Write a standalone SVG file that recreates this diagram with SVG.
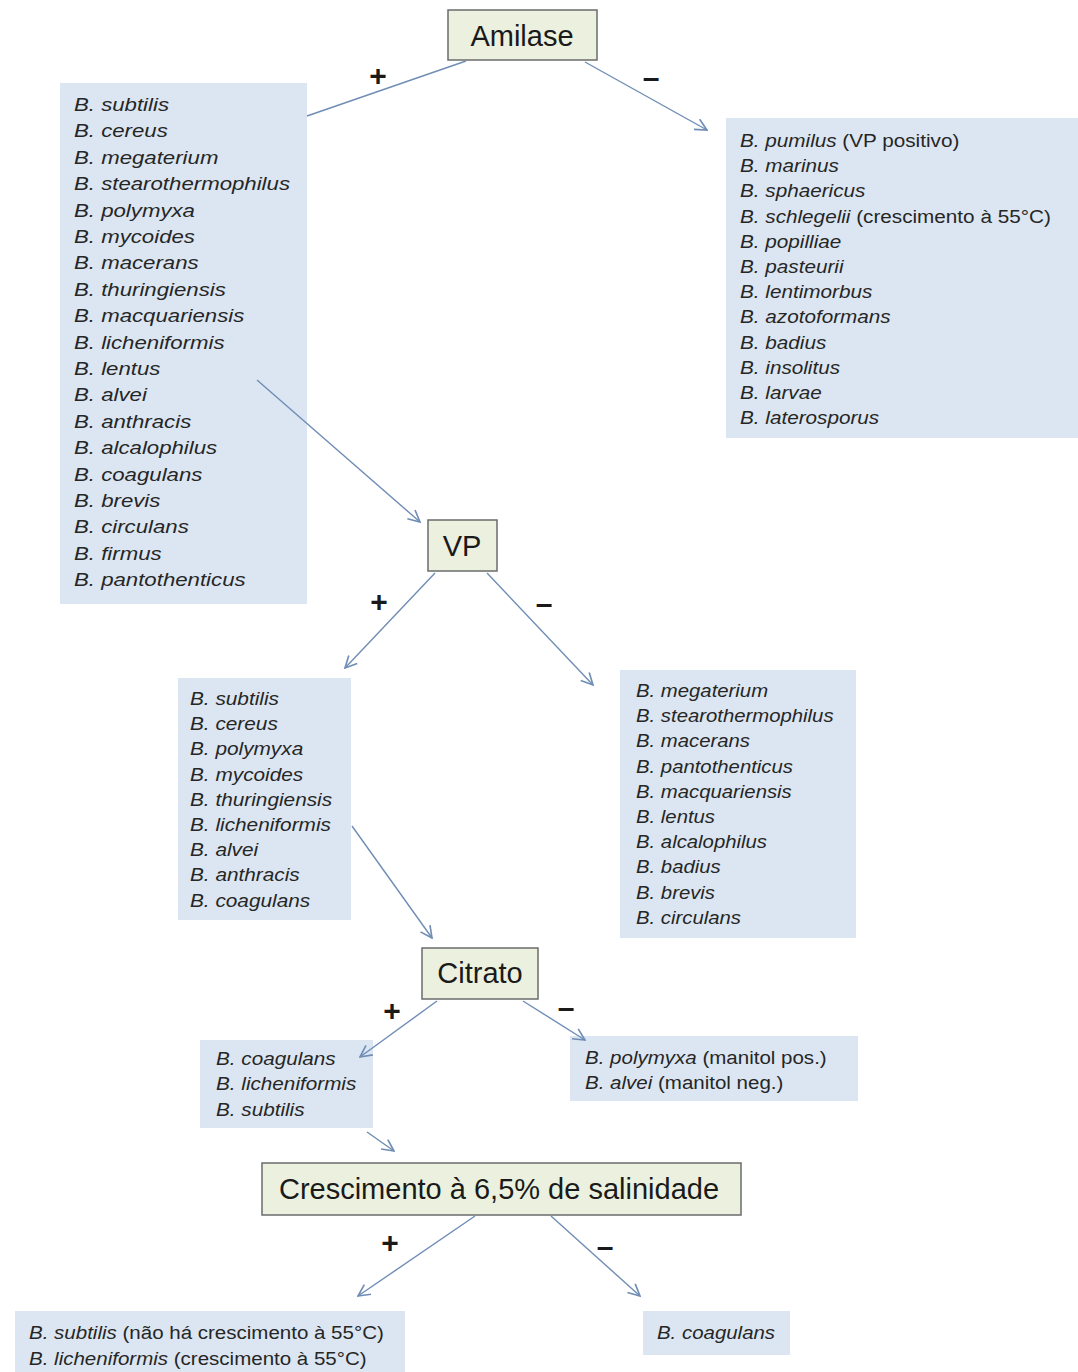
<svg xmlns="http://www.w3.org/2000/svg" width="1078" height="1372" viewBox="0 0 1078 1372">
<style>
.hdr{fill:#ebf1de;stroke:#6b6b6b;stroke-width:1.5}
.lst{fill:#dce6f2;stroke:none}
.ht{font-family:"Liberation Sans",Arial,sans-serif;font-size:29px;fill:#1a1a1a;text-anchor:middle}
.sp{font-family:"Liberation Sans",Arial,sans-serif;font-size:19px;fill:#262626}
.i{font-style:italic}
.sg{font-family:"Liberation Sans",Arial,sans-serif;font-size:30px;font-weight:bold;fill:#1a1a1a;text-anchor:middle}
.cn{stroke:#6f8db5;stroke-width:1.4;fill:none}
</style>
<defs>
<marker id="ah" viewBox="0 0 12 12" refX="11" refY="6" markerWidth="14" markerHeight="14" markerUnits="userSpaceOnUse" orient="auto">
<path d="M1,1 L11,6 L1,11" fill="none" stroke="#6f8db5" stroke-width="1.4"/>
</marker>
</defs>
<rect width="1078" height="1372" fill="#ffffff"/>

<g id="amilase">
<rect class="hdr" x="448" y="10" width="149" height="50"/>
<text class="ht" x="522" y="46">Amilase</text>
</g>

<g id="amilase-pos">
<rect class="lst" x="60" y="83" width="247" height="521"/>
<g transform="translate(74 0) scale(1.17 1)" class="sp i">
<text x="0" y="111">B. subtilis</text>
<text x="0" y="137.4">B. cereus</text>
<text x="0" y="163.8">B. megaterium</text>
<text x="0" y="190.2">B. stearothermophilus</text>
<text x="0" y="216.6">B. polymyxa</text>
<text x="0" y="243">B. mycoides</text>
<text x="0" y="269.4">B. macerans</text>
<text x="0" y="295.8">B. thuringiensis</text>
<text x="0" y="322.2">B. macquariensis</text>
<text x="0" y="348.6">B. licheniformis</text>
<text x="0" y="375">B. lentus</text>
<text x="0" y="401.4">B. alvei</text>
<text x="0" y="427.8">B. anthracis</text>
<text x="0" y="454.2">B. alcalophilus</text>
<text x="0" y="480.6">B. coagulans</text>
<text x="0" y="507">B. brevis</text>
<text x="0" y="533.4">B. circulans</text>
<text x="0" y="559.8">B. firmus</text>
<text x="0" y="586.2">B. pantothenticus</text>
</g>
</g>

<g id="amilase-neg">
<rect class="lst" x="726" y="118" width="352" height="320"/>
<g transform="translate(740 0) scale(1.09 1)" class="sp">
<text x="0" y="147"><tspan class="i">B. pumilus</tspan>  (VP positivo)</text>
<text x="0" y="172.2" class="i">B. marinus</text>
<text x="0" y="197.4" class="i">B. sphaericus</text>
<text x="0" y="222.6"><tspan class="i">B. schlegelii</tspan> (crescimento à 55°C)</text>
<text x="0" y="247.8" class="i">B. popilliae</text>
<text x="0" y="273" class="i">B. pasteurii</text>
<text x="0" y="298.2" class="i">B. lentimorbus</text>
<text x="0" y="323.4" class="i">B. azotoformans</text>
<text x="0" y="348.6" class="i">B. badius</text>
<text x="0" y="373.8" class="i">B. insolitus</text>
<text x="0" y="399" class="i">B. larvae</text>
<text x="0" y="424.2" class="i">B. laterosporus</text>
</g>
</g>

<g id="vp">
<rect class="hdr" x="428" y="520" width="69" height="51"/>
<text class="ht" x="462" y="556">VP</text>
</g>

<g id="vp-pos">
<rect class="lst" x="178" y="678" width="173" height="242"/>
<g transform="translate(190 0) scale(1.095 1)" class="sp i">
<text x="0" y="705">B. subtilis</text>
<text x="0" y="730.2">B. cereus</text>
<text x="0" y="755.4">B. polymyxa</text>
<text x="0" y="780.6">B. mycoides</text>
<text x="0" y="805.8">B. thuringiensis</text>
<text x="0" y="831">B. licheniformis</text>
<text x="0" y="856.2">B. alvei</text>
<text x="0" y="881.4">B. anthracis</text>
<text x="0" y="906.6">B. coagulans</text>
</g>
</g>

<g id="vp-neg">
<rect class="lst" x="620" y="670" width="236" height="268"/>
<g transform="translate(636 0) scale(1.07 1)" class="sp i">
<text x="0" y="697">B. megaterium</text>
<text x="0" y="722.2">B. stearothermophilus</text>
<text x="0" y="747.4">B. macerans</text>
<text x="0" y="772.6">B. pantothenticus</text>
<text x="0" y="797.8">B. macquariensis</text>
<text x="0" y="823">B. lentus</text>
<text x="0" y="848.2">B. alcalophilus</text>
<text x="0" y="873.4">B. badius</text>
<text x="0" y="898.6">B. brevis</text>
<text x="0" y="923.8">B. circulans</text>
</g>
</g>

<g id="citrato">
<rect class="hdr" x="422" y="948" width="116" height="51"/>
<text class="ht" x="480" y="983">Citrato</text>
</g>

<g id="citrato-pos">
<rect class="lst" x="200" y="1040" width="173" height="88"/>
<g transform="translate(216 0) scale(1.09 1)" class="sp i">
<text x="0" y="1065">B. coagulans</text>
<text x="0" y="1090.5">B. licheniformis</text>
<text x="0" y="1116">B. subtilis</text>
</g>
</g>

<g id="citrato-neg">
<rect class="lst" x="570" y="1036" width="288" height="65"/>
<g transform="translate(585 0) scale(1.08 1)" class="sp">
<text x="0" y="1064"><tspan class="i">B. polymyxa</tspan>  (manitol pos.)</text>
<text x="0" y="1089"><tspan class="i">B. alvei</tspan> (manitol neg.)</text>
</g>
</g>

<g id="salinidade">
<rect class="hdr" x="262" y="1163" width="479" height="52"/>
<text class="ht" x="499" y="1199">Crescimento à 6,5% de salinidade</text>
</g>

<g id="salinidade-pos">
<rect class="lst" x="15" y="1311" width="390" height="61"/>
<g transform="translate(29 0) scale(1.08 1)" class="sp">
<text x="0" y="1339"><tspan class="i">B. subtilis</tspan> (não há crescimento à 55°C)</text>
<text x="0" y="1365"><tspan class="i">B. licheniformis</tspan> (crescimento à 55°C)</text>
</g>
</g>

<g id="salinidade-neg">
<rect class="lst" x="643" y="1311" width="147" height="44"/>
<g transform="translate(657 0) scale(1.075 1)" class="sp i">
<text x="0" y="1339">B. coagulans</text>
</g>
</g>

<g id="connectors">
<line class="cn" x1="466" y1="61" x2="307" y2="116"/>
<line class="cn" x1="585" y1="62" x2="707" y2="130" marker-end="url(#ah)"/>
<line class="cn" x1="257" y1="380" x2="420" y2="522" marker-end="url(#ah)"/>
<line class="cn" x1="435" y1="573" x2="345" y2="668" marker-end="url(#ah)"/>
<line class="cn" x1="487" y1="573" x2="593" y2="685" marker-end="url(#ah)"/>
<line class="cn" x1="352" y1="826" x2="432" y2="938" marker-end="url(#ah)"/>
<line class="cn" x1="437" y1="1001" x2="360" y2="1057" marker-end="url(#ah)"/>
<line class="cn" x1="523" y1="1001" x2="585" y2="1040" marker-end="url(#ah)"/>
<line class="cn" x1="367" y1="1132" x2="394" y2="1151" marker-end="url(#ah)"/>
<line class="cn" x1="475" y1="1216" x2="358" y2="1296" marker-end="url(#ah)"/>
<line class="cn" x1="551" y1="1216" x2="640" y2="1296" marker-end="url(#ah)"/>
<text class="sg" x="378" y="86">+</text>
<text class="sg" x="651" y="88">–</text>
<text class="sg" x="379" y="612">+</text>
<text class="sg" x="544" y="614">–</text>
<text class="sg" x="392" y="1021">+</text>
<text class="sg" x="566" y="1018">–</text>
<text class="sg" x="390" y="1253">+</text>
<text class="sg" x="605" y="1257">–</text>
</g>
</svg>
